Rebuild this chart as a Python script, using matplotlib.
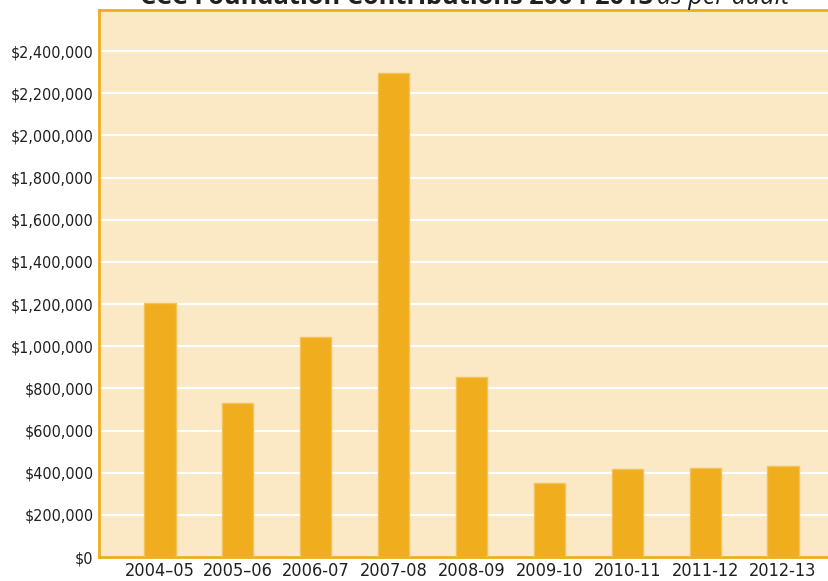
import matplotlib
matplotlib.use("Agg")
import matplotlib.pyplot as plt
from matplotlib.ticker import FuncFormatter, MultipleLocator

years = ['2004\u201305', '2005\u201306', '2006-07', '2007-08', '2008-09',
         '2009-10', '2010-11', '2011-12', '2012-13']
contributions = [1203000, 729000, 1043000, 2294000, 855000,
                 351000, 416000, 421000, 430000]

bg = '#FBE8C4'
gold = '#F0AD1E'
ink = '#231F20'

fig = plt.figure(figsize=(8.29, 5.81), dpi=100)
ax = fig.add_axes([99 / 829, 1 - 557 / 581, 1 - 99 / 829, 547 / 581])
ax.set_facecolor(bg)

x = list(range(len(years)))
ax.bar(x, contributions, width=0.40, color=gold, edgecolor='#F5C25A',
       linewidth=1, zorder=3)

ax.set_ylim(0, 2595000)
ax.set_xlim(-0.783, 8.59)
ax.yaxis.set_major_locator(MultipleLocator(200000))
ax.yaxis.set_major_formatter(FuncFormatter(lambda v, p: '${:,.0f}'.format(v)))
ax.grid(axis='y', color='white', linewidth=1.6, zorder=1)
ax.set_axisbelow(True)

ax.set_xticks(x)
ax.set_xticklabels(years)

for side in ['left', 'top', 'bottom']:
    ax.spines[side].set_color(gold)
    ax.spines[side].set_linewidth(2)
ax.spines['right'].set_visible(False)

ax.tick_params(axis='y', length=0, pad=4, labelcolor=ink)
ax.tick_params(axis='x', length=0, pad=3.5, labelcolor=ink)
for lbl in ax.get_yticklabels():
    lbl.set_family('DejaVu Sans')
    lbl.set_stretch('condensed')
    lbl.set_fontsize(11.5)
for lbl in ax.get_xticklabels():
    lbl.set_family('DejaVu Sans')
    lbl.set_stretch('condensed')
    lbl.set_fontsize(13)

# title is cropped at the top in the original
t1 = fig.text(140 / 829, 1 - 4 / 581, 'CCC Foundation Contributions 2004-2013',
              fontsize=18.3, fontweight='bold', family=['Open Sans', 'DejaVu Sans'],
              ha='left', va='baseline', color=ink)
fig.canvas.draw()
bb = t1.get_window_extent()
fig.text(bb.x1 / 829 + 4 / 829, 1 - 4 / 581, 'as per audit', fontsize=18,
         style='italic', family=['Open Sans', 'DejaVu Sans'], ha='left',
         va='baseline', color=ink)

fig.savefig('out.png', dpi=100, facecolor='white')
